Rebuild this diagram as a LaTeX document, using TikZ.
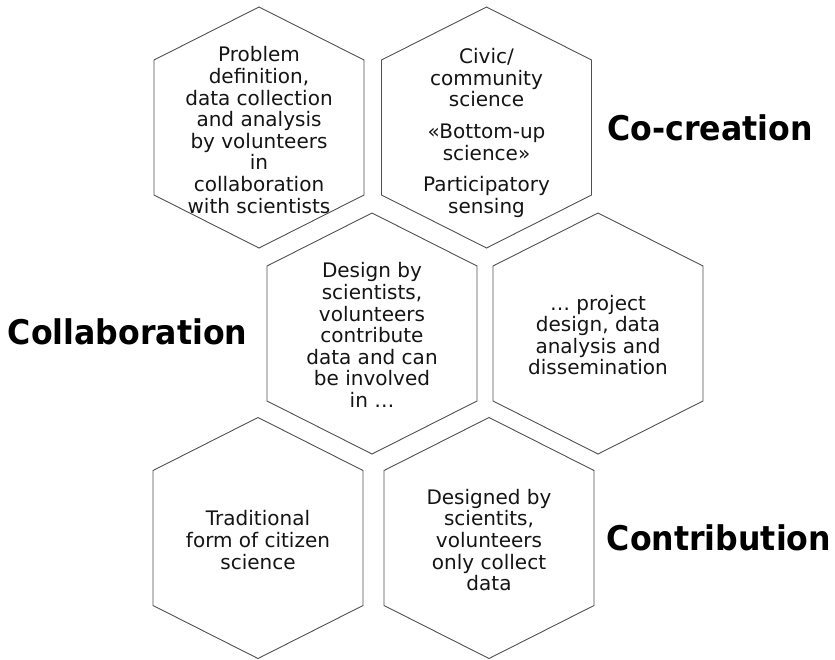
\documentclass[tikz,border=0pt]{standalone}
\usepackage{fontspec}
\setmainfont{DejaVu Sans}
\definecolor{hexgray}{RGB}{80,80,80}
\definecolor{txt}{RGB}{20,20,20}
\tikzset{
  hexline/.style={draw=hexgray, line width=0.9pt, line join=miter},
  body/.style={align=center, text=txt, inner sep=0pt, font=\fontsize{20}{21.6}\selectfont},
  label/.style={anchor=base, text=black, inner sep=0pt, font=\fontsize{34}{40}\selectfont\bfseries},
}
\newcommand{\hexcell}[2]{%
  \draw[hexline, shift={(#1,#2)}] (0,-120.5) -- (105,-67.5) -- (105,67.5) -- (0,120.5) -- (-105,67.5) -- (-105,-67.5) -- cycle;}
\newcommand{\narrow}[1]{\scalebox{0.93}[1]{#1}}
\begin{document}
\begin{tikzpicture}[x=1pt,y=-1pt]
\useasboundingbox (0,0) rectangle (835,659);
\hexcell{259}{127.5}
\hexcell{486.5}{127.5}
\hexcell{372}{333.5}
\hexcell{598}{333.5}
\hexcell{258}{538}
\hexcell{489}{538}
\node[body] (t1) at (259,130) {Problem\\definition,\\data collection\\and analysis\\by volunteers\\in\\collaboration\\with scientists};
\node[body] (t2) at (486.5,133) {Civic/\\community\\science\\[10pt]«Bottom-up\\science»\\[10pt]Participatory\\sensing};
\node[body] (t3) at (372,335) {Design by\\scientists,\\volunteers\\contribute\\data and can\\be involved\\in …};
\node[body] (t4) at (598,335) {… project\\design, data\\analysis and\\dissemination};
\node[body] (t5) at (258,540) {Traditional\\form of citizen\\science};
\node[body] (t6) at (489,540) {Designed by\\scientits,\\volunteers\\only collect\\data};
\node[label] (cocreation) at (710,140) {\narrow{Co-creation}};
\node[label] (collab) at (127.5,344) {\narrow{Collaboration}};
\node[label] (contrib) at (719,550) {\narrow{Contribution}};
\end{tikzpicture}
\end{document}
